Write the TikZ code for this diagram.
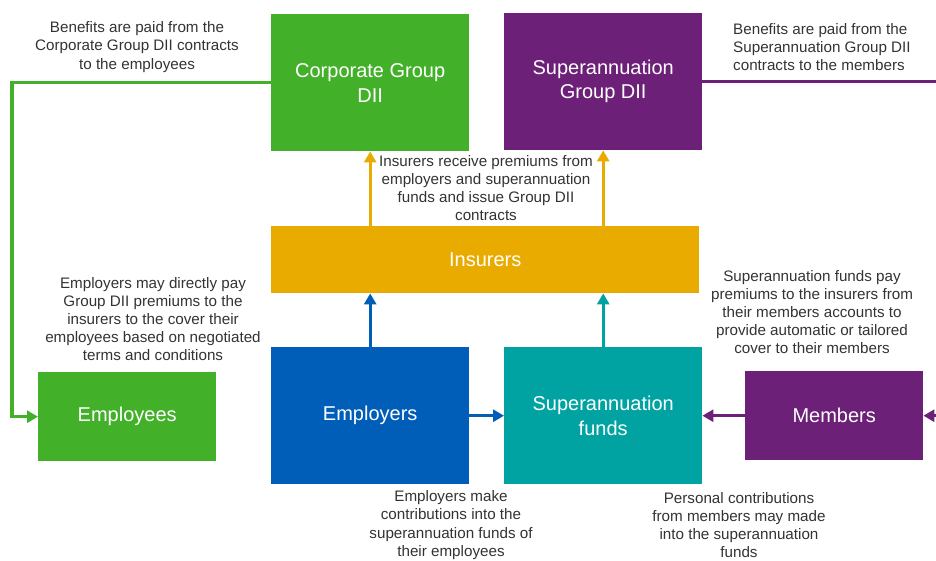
\documentclass[tikz,border=0pt]{standalone}
\usepackage{fontspec}
\setmainfont{Liberation Sans}
\usepackage{tikz}
\usetikzlibrary{arrows.meta,positioning}
\definecolor{cgreen}{HTML}{43B02A}
\definecolor{cpurple}{HTML}{6D2077}
\definecolor{cgold}{HTML}{EAAB00}
\definecolor{cblue}{HTML}{005EB8}
\definecolor{cteal}{HTML}{00A3A1}
\definecolor{ctext}{HTML}{333333}

\begin{document}
\begin{tikzpicture}[
            x=1pt, y=-1pt,
            box/.style={inner sep=0pt, text=white, align=center, anchor=north west,
                font=\fontsize{20}{25}\selectfont},
            bigbox/.style={box, minimum width=198pt, minimum height=137pt},
            smallbox/.style={box, minimum width=178pt, minimum height=89pt},
            note/.style={inner sep=0pt, text=ctext, align=center,
                font=\fontsize{15.2}{18.2}\selectfont},
            flow/.style={line width=3.4pt, -{Triangle[length=11pt,width=12pt]}},
        ]
        \useasboundingbox (0,0) rectangle (936,560);
        \clip (0,0) rectangle (936,560);
        % TOP: GROUP DII CONTRACTS
        \node[bigbox, fill=cgreen] (corp) at (271,14) {Corporate Group\\DII};
        \node[bigbox, fill=cpurple] (supg) at (504,13) {\raisebox{-4pt}{\shortstack{Superannuation\\[3pt]Group DII}}};
        % MIDDLE: INSURERS
        \node[box, fill=cgold, minimum width=428pt, minimum height=67pt] (ins) at (271,226) {Insurers};
        % BOTTOM: PARTIES
        \node[smallbox, fill=cgreen] (emps) at (38,372) {Employees};
        \node[bigbox, fill=cblue] (empr) at (271,347) {Employers};
        \node[bigbox, fill=cteal] (fund) at (504,347) {Superannuation\\funds};
        \node[smallbox, fill=cpurple] (memb) at (745,371) {Members};
        \coordinate (redge) at (960,0);
        % FLOWS
        \draw[flow, cgold] (ins.north -| corp.south) -- (corp.south);
        \draw[flow, cgold] (ins.north -| supg.south) -- (supg.south);
        \draw[flow, cblue] (empr.north) -- (ins.south -| empr.north);
        \draw[flow, cteal] (fund.north) -- (ins.south -| fund.north);
        \draw[flow, cblue] (empr.east) -- (fund.west);
        \draw[flow, cpurple] (memb.west) -- (fund.east |- memb.west);
        \draw[flow, cgreen] (corp.west) -- ++(-259,0) |- (emps.west);
        \draw[flow, cpurple] (supg.east) -- (supg.east -| redge) |- (memb.east);
        % NOTES
        \node[note] (n1) at (137,47) {Benefits are paid from the\\Corporate Group DII contracts\\to the employees};
        \node[note, align=left, anchor=west] (n2) at (733,47) {Benefits are paid from the\\Superannuation Group DII\\contracts to the members};
        \node[note] (n3) at (486,188) {Insurers receive premiums from\\employers and superannuation\\funds and issue Group DII\\contracts};
        \node[note] (n4) at (153,319) {Employers may directly pay\\Group DII premiums to the\\insurers to the cover their\\employees based on negotiated\\terms and conditions};
        \node[note] (n5) at (812,312) {Superannuation funds pay\\premiums to the insurers from\\their members accounts to\\provide automatic or tailored\\cover to their members};
        \node[note] (n6) at (451,525) {Employers make\\contributions into the\\superannuation funds of\\their employees};
        \node[note] (n7) at (739,525) {Personal contributions\\from members may made\\into the superannuation\\funds};
\end{tikzpicture}
\end{document}
